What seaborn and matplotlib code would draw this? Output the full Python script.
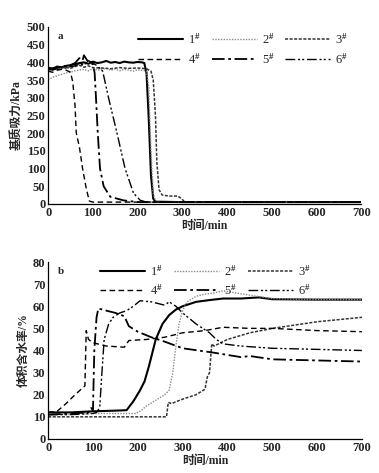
import matplotlib
matplotlib.use('Agg')
import pandas as pd
import matplotlib.pyplot as plt
import seaborn as sns

# ---- datos panel a: succión matricial (kPa) ----
ta1 = [0, 10, 20, 30, 40, 50, 60, 70, 80, 90, 100, 110, 120, 130, 140, 150, 160, 170, 180, 190, 200, 210, 215, 220, 225, 230, 235, 240, 300, 400, 500, 600, 700]
a1 = [385, 382, 388, 386, 390, 392, 395, 398, 400, 396, 402, 398, 400, 404, 399, 401, 398, 402, 400, 399, 401, 400, 398, 370, 240, 80, 15, 6, 5, 5, 5, 5, 5]
ta2 = [0, 10, 20, 30, 40, 50, 60, 70, 80, 90, 100, 110, 120, 130, 140, 150, 160, 170, 180, 190, 200, 210, 220, 225, 230, 235, 240, 300, 400, 500, 600, 700]
a2 = [350, 358, 362, 366, 370, 372, 376, 378, 380, 376, 382, 378, 380, 383, 378, 381, 376, 380, 378, 375, 379, 377, 376, 330, 150, 30, 8, 5, 5, 5, 5, 5]
ta3 = [0, 10, 20, 30, 40, 50, 60, 70, 80, 90, 100, 120, 140, 160, 180, 200, 220, 230, 235, 240, 243, 248, 255, 270, 290, 298, 305, 400, 500, 600, 700]
a3 = [378, 382, 380, 384, 386, 383, 388, 392, 386, 390, 385, 384, 382, 385, 383, 384, 382, 375, 350, 250, 120, 40, 25, 22, 22, 15, 6, 5, 5, 5, 5]
ta4 = [0, 10, 20, 30, 40, 50, 55, 60, 63, 70, 77, 85, 92, 100, 200, 300, 400, 500, 600, 700]
a4 = [375, 372, 378, 380, 378, 372, 345, 280, 200, 160, 100, 45, 8, 5, 5, 5, 5, 5, 5, 5]
ta5 = [0, 10, 20, 30, 40, 50, 60, 70, 75, 80, 90, 100, 104, 107, 111, 116, 124, 139, 168, 200, 300, 400, 500, 600, 700]
a5 = [380, 383, 385, 388, 390, 392, 398, 412, 395, 420, 400, 395, 370, 300, 200, 100, 50, 20, 10, 5, 5, 5, 5, 5, 5]
ta6 = [0, 10, 20, 30, 40, 50, 60, 70, 80, 90, 100, 110, 122, 135, 154, 172, 191, 206, 220, 300, 400, 500, 600, 700]
a6 = [380, 378, 382, 385, 384, 388, 390, 395, 392, 405, 398, 390, 375, 300, 200, 100, 30, 10, 5, 5, 5, 5, 5, 5]

# ---- datos panel b: contenido volumétrico de agua (%) ----
tb1 = [0, 50, 100, 150, 175, 190, 205, 215, 225, 240, 255, 270, 285, 300, 330, 360, 390, 430, 470, 500, 600, 700]
b1 = [12, 12, 12.5, 12.8, 13, 17, 22, 26, 33, 45, 52, 56, 58.5, 60, 62, 62.8, 63.5, 63.5, 64, 63.2, 63, 63]
tb2 = [0, 50, 100, 150, 195, 205, 220, 240, 260, 270, 278, 285, 292, 300, 310, 330, 350, 370, 390, 420, 450, 500, 600, 700]
b2 = [11, 11.3, 11.5, 11.5, 11.5, 12.5, 15, 17.5, 20, 22, 30, 42, 52, 58, 62, 64.5, 65.5, 66, 67, 66, 65, 63.5, 63, 63]
tb3 = [0, 50, 100, 200, 264, 268, 275, 300, 330, 350, 355, 360, 365, 370, 400, 450, 500, 600, 700]
b3 = [10, 10, 10, 10, 10, 16.5, 16, 18, 20, 22.5, 28, 30, 43, 42, 45, 48, 50, 53, 55]
tb4 = [0, 20, 40, 60, 82, 85, 90, 100, 130, 170, 180, 220, 260, 300, 350, 390, 450, 500, 600, 700]
b4 = [12, 12.5, 16, 20, 24, 49, 45, 43.5, 42, 41.5, 44.5, 45, 46, 48, 49, 50.5, 50, 50, 49, 48.5]
tb5 = [0, 50, 90, 96, 100, 103, 108, 112, 130, 150, 170, 180, 200, 230, 260, 300, 370, 430, 450, 500, 600, 700]
b5 = [11, 11.5, 12, 14, 13, 40, 55, 59, 58, 57, 55.5, 51, 48.5, 46, 44, 41, 39, 37, 37.5, 36, 35.5, 35]
tb6 = [0, 50, 100, 108, 115, 120, 125, 135, 145, 160, 175, 190, 205, 230, 260, 270, 285, 300, 330, 360, 375, 390, 430, 500, 600, 700]
b6 = [11, 11, 11.5, 12, 14, 30, 45, 52, 55, 57, 58, 60, 62.5, 62, 60.5, 62, 60, 57, 52, 48, 45, 43, 42, 41, 40.5, 40]

etiquetas = ['1$^{\\#}$', '2$^{\\#}$', '3$^{\\#}$', '4$^{\\#}$', '5$^{\\#}$', '6$^{\\#}$']
estilos = [dict(color='black', lw=1.5, ls='-'),
           dict(color='#8a8a8a', lw=1.0, ls=(0, (1, 1))),
           dict(color='#333333', lw=1.1, ls=(0, (2, 1))),
           dict(color='black', lw=1.0, ls=(0, (4, 2.5))),
           dict(color='black', lw=1.3, ls=(0, (7, 2, 1.5, 2))),
           dict(color='black', lw=1.0, ls=(0, (7, 2, 1.5, 1.5, 1.5, 2)))]

sns.set_style('white')
plt.rcParams['font.family'] = ['Liberation Serif', 'Noto Sans CJK SC']
plt.rcParams['mathtext.fontset'] = 'custom'
plt.rcParams['mathtext.rm'] = 'Liberation Serif:bold'
plt.rcParams['mathtext.it'] = 'Liberation Serif:bold:italic'

fig = plt.figure(figsize=(3.79, 4.73), dpi=100)
ax1 = fig.add_axes([0.127, 0.569, 0.826, 0.374])
ax2 = fig.add_axes([0.127, 0.072, 0.828, 0.374])

series_a = [(ta1, a1), (ta2, a2), (ta3, a3), (ta4, a4), (ta5, a5), (ta6, a6)]
series_b = [(tb1, b1), (tb2, b2), (tb3, b3), (tb4, b4), (tb5, b5), (tb6, b6)]

for ax, series in [(ax1, series_a), (ax2, series_b)]:
    for (t, v), lab, st in zip(series, etiquetas, estilos):
        df = pd.DataFrame({'t': t, 'v': v})
        sns.lineplot(data=df, x='t', y='v', ax=ax, label=lab, color=st['color'],
                     linewidth=st['lw'], linestyle=st['ls'])

def formato(ax, ymax, ystep, ylabel, letra, loc_legend):
    ax.set_xlim(0, 700)
    ax.set_ylim(0, ymax)
    ax.set_xticks(range(0, 701, 100))
    ax.set_yticks(range(0, ymax + 1, ystep))
    ax.tick_params(direction='in', length=3, width=0.8, labelsize=9, pad=2)
    for lbl in ax.get_xticklabels() + ax.get_yticklabels():
        lbl.set_fontweight('bold')
    for s in ['top', 'right']:
        ax.spines[s].set_visible(False)
    for s in ['left', 'bottom']:
        ax.spines[s].set_color('black')
        ax.spines[s].set_linewidth(0.9)
    ax.set_xlabel('时间/min', fontsize=8.5, fontweight='bold', labelpad=1)
    ax.set_ylabel(ylabel, fontsize=8.5, fontweight='bold', labelpad=2)
    ax.text(0.03, 0.97, letra, transform=ax.transAxes, fontsize=8, fontweight='bold',
            va='top', ha='left')
    # orden por filas: 1 2 3 / 4 5 6
    h, l = ax.get_legend_handles_labels()
    orden = [0, 3, 1, 4, 2, 5]
    ax.legend([h[i] for i in orden], [l[i] for i in orden], ncol=3, frameon=False,
              fontsize=9, handlelength=3.6, columnspacing=0.9,
              handletextpad=0.4, labelspacing=0.4, loc='upper left', bbox_to_anchor=loc_legend,
              borderaxespad=0)

formato(ax1, 500, 50, '基质吸力/kPa', 'a', (0.27, 1.0))
formato(ax2, 80, 10, '体积含水率/%', 'b', (0.15, 1.02))

fig.savefig('out.png', dpi=100)
